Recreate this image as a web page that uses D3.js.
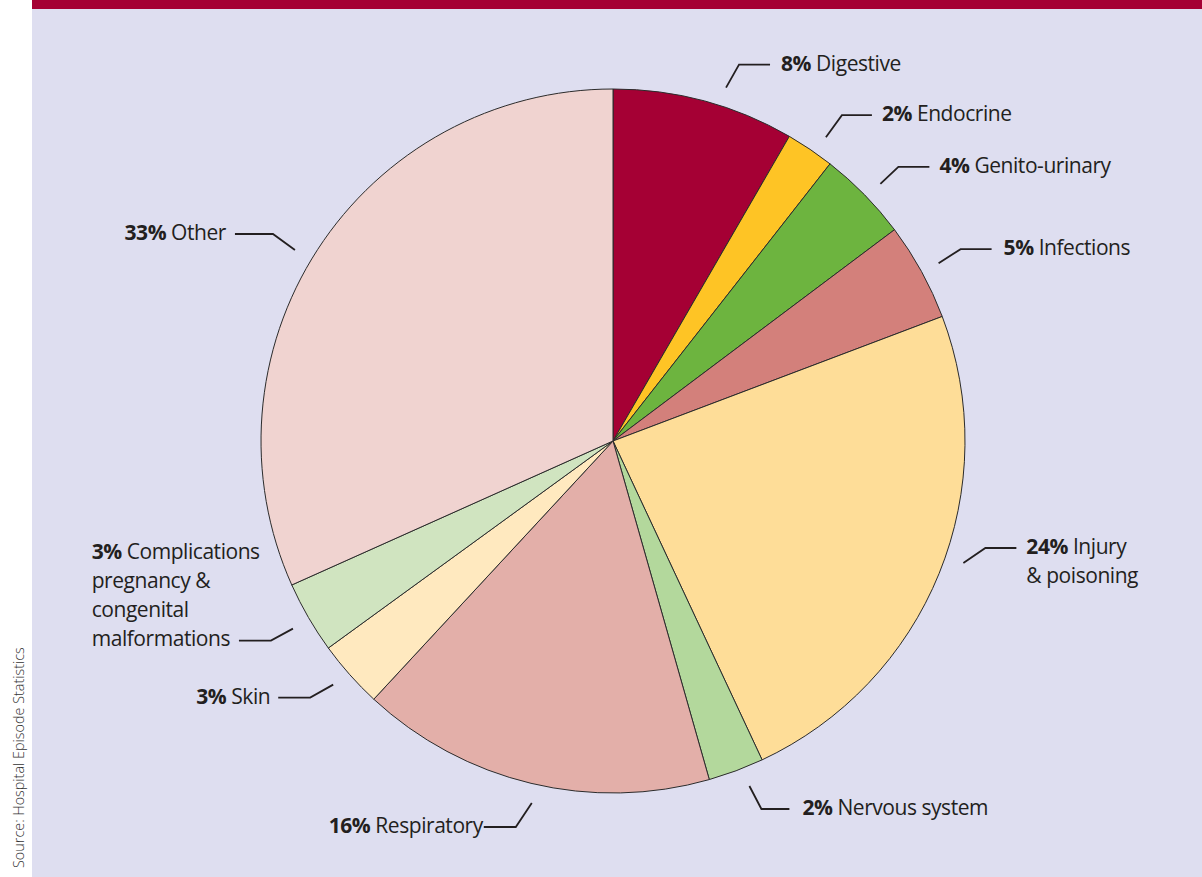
<!DOCTYPE html>
<html>
<head>
<meta charset="utf-8">
<script src="https://cdn.jsdelivr.net/npm/d3@7"></script>
<style>
  html, body { margin: 0; padding: 0; background: #ffffff; }
  svg { display: block; }
  text { font-family: "Open Sans", "Noto Sans", sans-serif; fill: #231f20; }
</style>
</head>
<body>
<svg id="chart" width="1202" height="877"></svg>
<script>
// ---- data ----
const categories = ["Digestive", "Endocrine", "Genito-urinary", "Infections", "Injury & poisoning",
  "Nervous system", "Respiratory", "Skin", "Complications pregnancy & congenital malformations", "Other"];
const shares = [8.35, 2.22, 4.18, 4.49, 23.79, 2.55, 16.3, 3.1, 3.3, 31.7];
const percentLabels = ["8%", "2%", "4%", "5%", "24%", "2%", "16%", "3%", "3%", "33%"];
const labelLines = [["Digestive"], ["Endocrine"], ["Genito-urinary"], ["Infections"], ["Injury", "& poisoning"],
  ["Nervous system"], ["Respiratory"], ["Skin"], ["Complications", "pregnancy &", "congenital", "malformations"], ["Other"]];
const sourceText = "Source: Hospital Episode Statistics";

// ---- styling / layout ----
const sliceColors = ["#a50034", "#fec425", "#6db43f", "#d3807b", "#fedd98", "#b3d89c", "#e3afa9", "#ffe9bf", "#d0e4c0", "#f0d3d0"];
const leaderFrac = [0.59, 0.62, 0.535, 0.51, 0.466, 0.38, 0.486, 0.55, 0.475, 0.483];
const leaderElbow = [[13, -23], [16, -22], [18, -17], [22, -14], [22, -15], [12, 23], [-16, 24], [-23, 13], [-22, 12], [-22, -16]];
const leaderRun = [31, 30, 31, 31, 31, 28, 32, 32, 32, 38];
const textGap = [11, 10, 10, 12, 10, 13, 1, 8, 9, 9];

const W = 1202, H = 877;
const cx = 613, cy = 441, R = 352, RL = 371;
const fontSize = 21, lineH = 29, letterSp = -0.45;

const svg = d3.select("#chart");
svg.append("rect").attr("x", 0).attr("y", 0).attr("width", W).attr("height", H).attr("fill", "#ffffff");
svg.append("rect").attr("x", 32).attr("y", 0).attr("width", W - 32).attr("height", H).attr("fill", "#dedef0");
svg.append("rect").attr("x", 32).attr("y", 0).attr("width", W - 32).attr("height", 9).attr("fill", "#a50034");

// source text
svg.append("text")
  .attr("transform", `translate(24, 868) rotate(-90)`)
  .attr("font-size", 14.4)
  .attr("font-weight", 300)
  .style("fill", "#333333")
  .text(sourceText);

const data = categories.map((c, i) => ({ i, name: c, value: shares[i] }));
const pie = d3.pie().sort(null).value(d => d.value).startAngle(0).endAngle(2 * Math.PI);
const arcs = pie(data);
const arc = d3.arc().innerRadius(0).outerRadius(R);

const g = svg.append("g").attr("transform", `translate(${cx},${cy})`);
g.selectAll("path.slice").data(arcs).join("path")
  .attr("class", "slice")
  .attr("d", arc)
  .attr("fill", d => sliceColors[d.data.i])
  .attr("stroke", "#2b2b2b")
  .attr("stroke-width", 1)
  .attr("stroke-linejoin", "round");

// leaders and labels
arcs.forEach(d => {
  const i = d.data.i;
  const a = d.startAngle + (d.endAngle - d.startAngle) * leaderFrac[i];
  const x0 = RL * Math.sin(a), y0 = -RL * Math.cos(a);
  const x1 = x0 + leaderElbow[i][0], y1 = y0 + leaderElbow[i][1];
  const right = leaderElbow[i][0] > 0;
  const x2 = x1 + (right ? leaderRun[i] : -leaderRun[i]);
  g.append("path")
    .attr("d", d3.line()([[x0, y0], [x1, y1], [x2, y1]]))
    .attr("fill", "none")
    .attr("stroke", "#231f20")
    .attr("stroke-width", 1.8);

  const lines = labelLines[i];
  const t = g.append("text").attr("font-size", fontSize).attr("letter-spacing", letterSp);
  const multiLeft = !right && lines.length > 1;
  const firstBase = multiLeft ? y1 + 5 - (lines.length - 1) * lineH : y1 + 6;
  lines.forEach((ln, k) => {
    const ts = t.append("tspan").attr("y", firstBase + k * lineH);
    if (k === 0) {
      ts.append("tspan").attr("font-weight", 700).text(percentLabels[i]);
      ts.append("tspan").text(" " + ln);
    } else {
      ts.text(ln);
    }
  });
  if (right) {
    t.selectAll(":scope > tspan").attr("x", x2 + textGap[i]);
  } else if (multiLeft) {
    const tmp = g.append("text").attr("font-size", fontSize).attr("letter-spacing", letterSp).text(lines[lines.length - 1]);
    const wLast = tmp.node().getComputedTextLength();
    tmp.remove();
    t.selectAll(":scope > tspan").attr("x", x2 - textGap[i] - wLast);
  } else {
    t.attr("text-anchor", "end");
    t.selectAll(":scope > tspan").attr("x", x2 - textGap[i]);
  }
});
</script>
</body>
</html>
